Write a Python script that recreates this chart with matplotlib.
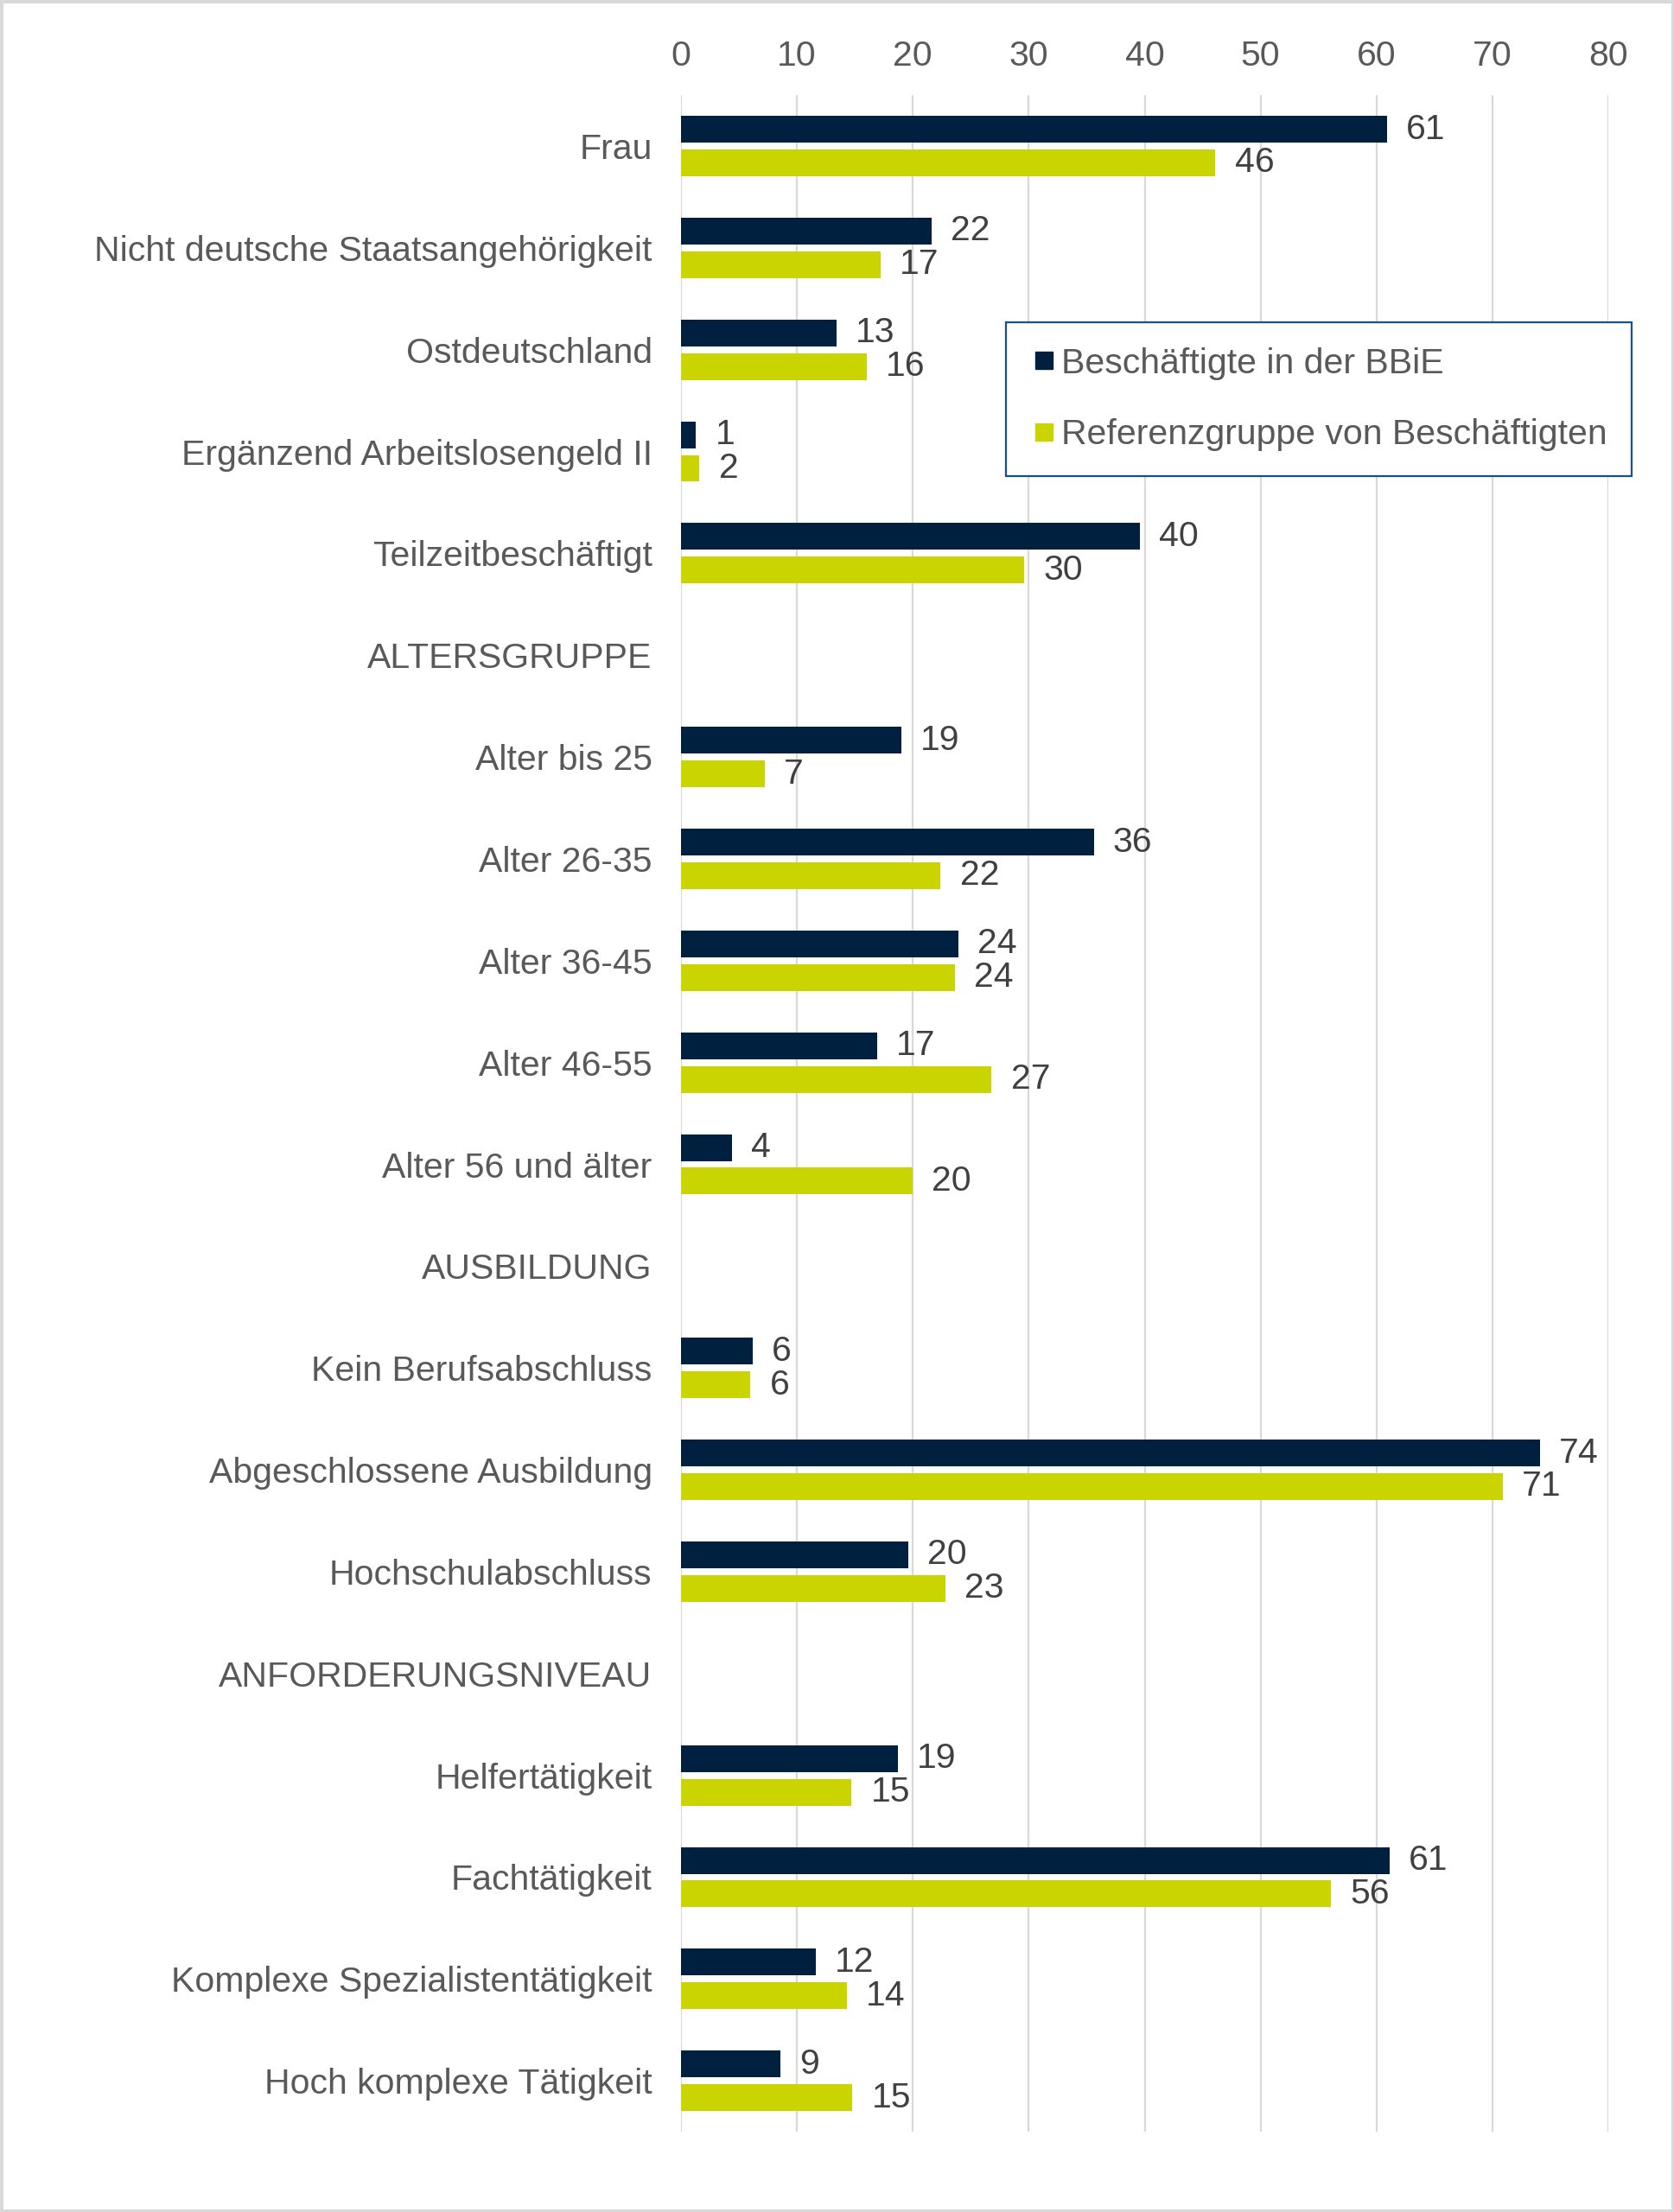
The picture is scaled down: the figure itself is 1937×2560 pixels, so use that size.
import numpy as np
import matplotlib
matplotlib.use("Agg")
import matplotlib.pyplot as plt
from matplotlib.lines import Line2D
from matplotlib.patches import Rectangle

# ------------------------------------------------------------------
# Data (in percent)
# ------------------------------------------------------------------
categories = [
    "Frau",
    "Nicht deutsche Staatsangehörigkeit",
    "Ostdeutschland",
    "Ergänzend Arbeitslosengeld II",
    "Teilzeitbeschäftigt",
    "ALTERSGRUPPE",
    "Alter bis 25",
    "Alter 26-35",
    "Alter 36-45",
    "Alter 46-55",
    "Alter 56 und älter",
    "AUSBILDUNG",
    "Kein Berufsabschluss",
    "Abgeschlossene Ausbildung",
    "Hochschulabschluss",
    "ANFORDERUNGSNIVEAU",
    "Helfertätigkeit",
    "Fachtätigkeit",
    "Komplexe Spezialistentätigkeit",
    "Hoch komplexe Tätigkeit",
]

bbie = [60.9, 21.6, 13.4, 1.3, 39.6, np.nan, 19.0, 35.6, 23.9, 16.9, 4.4,
        np.nan, 6.2, 74.1, 19.6, np.nan, 18.7, 61.1, 11.6, 8.6]
referenz = [46.1, 17.2, 16.0, 1.6, 29.6, np.nan, 7.2, 22.4, 23.6, 26.8, 20.0,
            np.nan, 6.0, 70.9, 22.8, np.nan, 14.7, 56.1, 14.3, 14.8]

series_names = ["Beschäftigte in der BBiE", "Referenzgruppe von Beschäftigten"]
x_ticks = [0, 10, 20, 30, 40, 50, 60, 70, 80]

# ------------------------------------------------------------------
# Style
# ------------------------------------------------------------------
DARK = "#002040"
GREEN = "#C9D400"
TEXT = "#595959"
GRID = "#D9D9D9"
FS = 29.5

plt.rcParams["font.family"] = ["Liberation Sans", "DejaVu Sans"]

fig = plt.figure(figsize=(19.37, 25.6), dpi=100)
ax = fig.add_axes([0.4068, 0.0363, 0.9608 - 0.4068, 0.957 - 0.0363])

y = np.arange(len(categories))
bar_h = 0.263
offset = 0.165

bars1 = ax.barh(y - offset, bbie, height=bar_h, color=DARK, zorder=3)
bars2 = ax.barh(y + offset, referenz, height=bar_h, color=GREEN, zorder=3)

for bars, vals in [(bars1, bbie), (bars2, referenz)]:
    labels = ["" if np.isnan(v) else f"{v:.0f}" for v in vals]
    ax.bar_label(bars, labels=labels, padding=16, fontsize=FS, color="#404040")

ax.set_xlim(0, 80)
ax.set_ylim(len(categories) - 0.5, -0.5)
ax.set_xticks(x_ticks)
ax.set_yticks(y)
ax.set_yticklabels(categories)
ax.xaxis.tick_top()
ax.tick_params(axis="x", length=0, pad=19, labelsize=FS, labelcolor=TEXT)
ax.tick_params(axis="y", length=0, pad=24, labelsize=FS, labelcolor=TEXT)
ax.grid(axis="x", color=GRID, linewidth=1.6, zorder=0)
for s in ax.spines.values():
    s.set_visible(False)

# legend
handles = [
    Line2D([], [], linestyle="none", marker="s", markersize=15,
           markerfacecolor=DARK, markeredgecolor=DARK),
    Line2D([], [], linestyle="none", marker="s", markersize=15,
           markerfacecolor=GREEN, markeredgecolor=GREEN),
]
leg = fig.legend(handles, series_names, loc="upper left",
                 bbox_to_anchor=(1164 / 1937, 1 - 373 / 2560),
                 fontsize=FS, frameon=True, fancybox=False,
                 borderpad=0.7, labelspacing=1.08, handlelength=0.75,
                 handletextpad=0.1, borderaxespad=0)
for t in leg.get_texts():
    t.set_color(TEXT)
frame = leg.get_frame()
frame.set_edgecolor("#1B4F8A")
frame.set_linewidth(1.6)
frame.set_facecolor("white")
frame.set_alpha(1)

# outer border of the picture
fig.patches.append(Rectangle((0, 0), 1, 1, transform=fig.transFigure,
                             fill=False, edgecolor=GRID, linewidth=5))

fig.savefig("out.png", dpi=100)
